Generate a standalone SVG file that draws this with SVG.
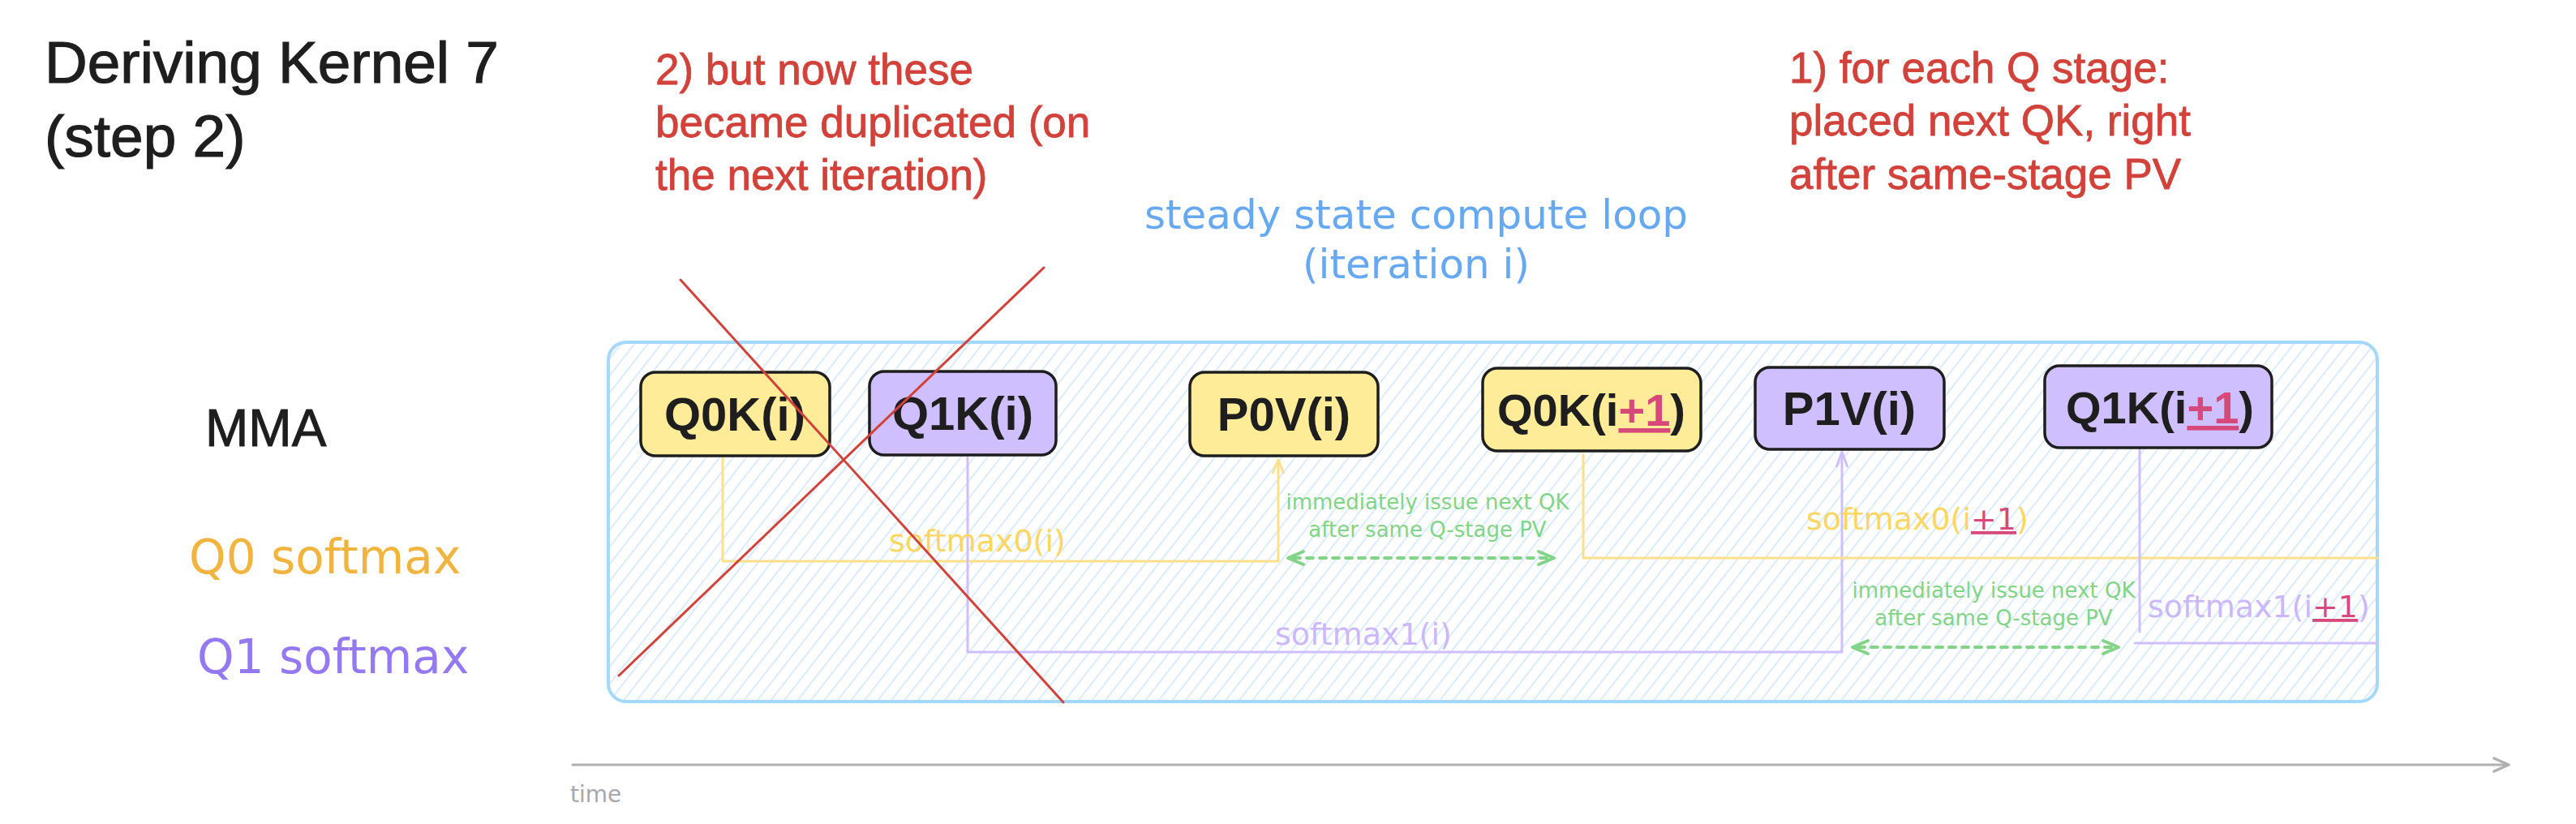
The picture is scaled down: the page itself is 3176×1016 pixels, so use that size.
<svg xmlns="http://www.w3.org/2000/svg" width="3176" height="1016" viewBox="0 0 3176 1016">
<defs>
<pattern id="hatch" patternUnits="userSpaceOnUse" width="13" height="13" patternTransform="rotate(38)">
<line x1="6.5" y1="0" x2="6.5" y2="13" stroke="#cfe6fc" stroke-width="1.6"/>
</pattern>
<style>
.hand{font-family:"Liberation Sans",Arial,sans-serif;}
.exc{font-family:"DejaVu Sans","Noto Sans",sans-serif;}
.title{font-size:73px;fill:#1e1e1e;stroke:#1e1e1e;stroke-width:1.2px;}
.note{font-size:53px;fill:#d1423a;stroke:#d1423a;stroke-width:0.8px;}
.blue{font-size:50px;fill:#66a9f0;}
.node rect{stroke:#1e1e1e;stroke-width:3.5px;}
.yel{fill:#ffec99;}
.pur{fill:#d0bfff;}
.ntext{font-family:"Liberation Sans",Arial,sans-serif;font-weight:bold;font-size:58px;fill:#1e1e1e;text-anchor:middle;}
.nsmall{font-size:56px;}
.pink{fill:#d6497a;text-decoration:underline;}
.cy{fill:none;stroke:#fde08a;stroke-width:3px;stroke-linejoin:round;stroke-linecap:round;}
.cp{fill:none;stroke:#d0bfff;stroke-width:3px;stroke-linejoin:round;stroke-linecap:round;}
.cg{fill:none;stroke:#82d486;stroke-width:4px;stroke-linecap:round;stroke-linejoin:round;}
.dash{stroke-dasharray:8 8;}
.lbl{font-size:38px;}
.ly{fill:#fbd660;}
.lp{fill:#cbb8fb;}
.green{font-size:26px;fill:#82d486;text-anchor:middle;}
.redline{stroke:#d1423a;stroke-width:3px;stroke-linecap:round;}
</style>
</defs>
<rect x="0" y="0" width="3176" height="1016" fill="#ffffff"/>

<g id="title">
<text class="hand title" x="55" y="102">Deriving Kernel 7</text>
<text class="hand title" x="55" y="193">(step 2)</text>
</g>

<g id="note-left">
<text class="hand note" x="808" y="104">2) but now these</text>
<text class="hand note" x="808" y="169">became duplicated (on</text>
<text class="hand note" x="808" y="234">the next iteration)</text>
</g>

<g id="note-right">
<text class="hand note" x="2206" y="102">1) for each Q stage:</text>
<text class="hand note" x="2206" y="167">placed next QK, right</text>
<text class="hand note" x="2206" y="233">after same-stage PV</text>
</g>

<g id="loop-label">
<text class="exc blue" x="1746" y="282" text-anchor="middle">steady state compute loop</text>
<text class="exc blue" x="1746" y="343" text-anchor="middle">(iteration i)</text>
</g>

<g id="row-labels">
<text class="hand" x="253" y="550" font-size="64" fill="#1e1e1e" stroke="#1e1e1e" stroke-width="1">MMA</text>
<text class="exc" x="233" y="707" font-size="58" fill="#f0b43f">Q0 softmax</text>
<text class="exc" x="243" y="830" font-size="58" fill="#9479f2">Q1 softmax</text>
</g>

<g id="loop-container">
<rect x="750" y="422" width="2181" height="443" rx="22" fill="#ffffff"/>
<rect x="750" y="422" width="2181" height="443" rx="22" fill="url(#hatch)" stroke="#a5d8ff" stroke-width="4"/>
</g>

<g id="connectors">
<path class="cy" d="M891,564 V692 H1576 V569"/>
<polyline class="cy" points="1569.5,583 1576,567 1582.5,583"/>
<path class="cp" d="M1193,564 V804 H2271 V559"/>
<polyline class="cp" points="2264.5,575 2271,557 2277.5,575"/>
<path class="cy" d="M1952,560 V688 H2931"/>
<path class="cp" d="M2638,553 V779"/>
<path class="cp" d="M2632,793 H2931"/>
<line class="cg dash" x1="1595" y1="688" x2="1909" y2="688"/>
<polyline class="cg" points="1607,680 1588,688 1607,696"/>
<polyline class="cg" points="1897,680 1916,688 1897,696"/>
<line class="cg dash" x1="2291" y1="798" x2="2605" y2="798"/>
<polyline class="cg" points="2303,790 2284,798 2303,806"/>
<polyline class="cg" points="2593,790 2612,798 2593,806"/>
<line x1="706" y1="943" x2="3091" y2="943" stroke="#b0b0b3" stroke-width="3" stroke-linecap="round"/>
<polyline points="3075,935 3093,943 3075,951" fill="none" stroke="#b0b0b3" stroke-width="3.5" stroke-linecap="round" stroke-linejoin="round"/>
</g>

<g id="connector-labels">
<text class="exc lbl ly" x="1096" y="680">softmax0(i)</text>
<text class="exc lbl lp" x="1572" y="795">softmax1(i)</text>
<text class="exc lbl ly" x="2227" y="653">softmax0(i<tspan class="pink">+1</tspan>)</text>
<text class="exc lbl lp" x="2648" y="761">softmax1(i<tspan class="pink">+1</tspan>)</text>
<text class="exc green" x="1760" y="628">immediately issue next QK</text>
<text class="exc green" x="1760" y="662">after same Q-stage PV</text>
<text class="exc green" x="2458" y="737">immediately issue next QK</text>
<text class="exc green" x="2458" y="771">after same Q-stage PV</text>
<text class="exc" x="703" y="989" font-size="28" fill="#a8a8ab">time</text>
</g>

<g id="node-q0k-i" class="node">
<rect class="yel" x="790" y="459" width="233" height="103" rx="18"/>
<text class="ntext" x="906" y="531">Q0K(i)</text>
</g>
<g id="node-q1k-i" class="node">
<rect class="pur" x="1072" y="458" width="230" height="103" rx="18"/>
<text class="ntext" x="1187" y="530">Q1K(i)</text>
</g>
<g id="node-p0v-i" class="node">
<rect class="yel" x="1467" y="459" width="232" height="103" rx="18"/>
<text class="ntext" x="1583" y="531">P0V(i)</text>
</g>
<g id="node-q0k-i1" class="node">
<rect class="yel" x="1828" y="454" width="269" height="102" rx="18"/>
<text class="ntext nsmall" x="1962" y="525">Q0K(i<tspan class="pink">+1</tspan>)</text>
</g>
<g id="node-p1v-i" class="node">
<rect class="pur" x="2164" y="453" width="233" height="101" rx="18"/>
<text class="ntext" x="2280" y="524">P1V(i)</text>
</g>
<g id="node-q1k-i1" class="node">
<rect class="pur" x="2521" y="451" width="280" height="101" rx="18"/>
<text class="ntext nsmall" x="2663" y="522">Q1K(i<tspan class="pink">+1</tspan>)</text>
</g>

<g id="cross-out">
<line class="redline" x1="839" y1="345" x2="1311" y2="866"/>
<line class="redline" x1="1287" y1="330" x2="763" y2="833"/>
</g>
</svg>
